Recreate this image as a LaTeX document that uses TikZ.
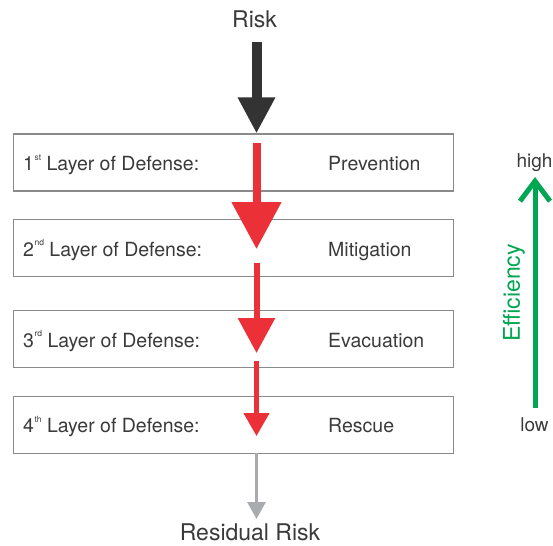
\documentclass[tikz,border=0pt]{standalone}
\usepackage{fontspec}
\setmainfont{TeX Gyre Heros}
\usetikzlibrary{arrows.meta}
\definecolor{txt}{HTML}{3A3A3A}
\definecolor{boxgray}{HTML}{8A8A8A}
\definecolor{riskred}{HTML}{EC3038}
\definecolor{darkarrow}{HTML}{333333}
\definecolor{resgray}{HTML}{A9ABAE}
\definecolor{effgreen}{HTML}{00A651}
\newcommand\ordsup[1]{\kern0.5pt\raisebox{10.5pt}{\fontsize{8.5}{9}\selectfont #1}}
\begin{document}
\begin{tikzpicture}[x=1pt,y=-1pt,
  layerbox/.style={draw=boxgray, line width=1.1pt, minimum width=440pt, minimum height=57pt, anchor=north west, inner sep=0pt},
  lbl/.style={text=txt, font=\fontsize{19.5}{21}\selectfont, anchor=base west, inner sep=0pt},
  title/.style={text=txt, font=\fontsize{23}{25}\selectfont, anchor=base, inner sep=0pt},
  scalelbl/.style={text=txt, font=\fontsize{19}{21}\selectfont, anchor=base, inner sep=0pt},
  flow/.style={line cap=butt}
]
\useasboundingbox (0,0) rectangle (553,545);

% boxes
\node[layerbox] (b1) at (13,133.5) {};
\node[layerbox] (b2) at (13,218.5) {};
\node[layerbox] (b3) at (13,310) {};
\node[layerbox] (b4) at (13,396) {};

% labels
\node[lbl] (l1) at (23,171) {1\ordsup{st} Layer of Defense:};
\node[lbl] (l2) at (23,256) {2\ordsup{nd} Layer of Defense:};
\node[lbl] (l3) at (23,347) {3\ordsup{rd} Layer of Defense:};
\node[lbl] (l4) at (23,432.5) {4\ordsup{th} Layer of Defense:};
\node[lbl] (m1) at (328,171) {Prevention};
\node[lbl] (m2) at (328,256) {Mitigation};
\node[lbl] (m3) at (328,347) {Evacuation};
\node[lbl] (m4) at (328,432.5) {Rescue};

\node[title] (risk) at (254.5,28) {Risk};
\node[title] (res) at (250,540) {Residual Risk};

% arrow coordinates
\coordinate (k0) at (256.5,42);
\coordinate (k1) at (256.5,133.5);
\coordinate (r1s) at (256.5,143);
\coordinate (r1e) at (256.5,249);
\coordinate (r2s) at (256.5,263);
\coordinate (r2e) at (256.5,353);
\coordinate (r3s) at (256.5,361);
\coordinate (r3e) at (256.5,436);
\coordinate (g0) at (256.5,453);
\coordinate (g1) at (256.5,519);

\draw[flow, darkarrow, line width=10pt, -{Triangle[width=35pt,length=36pt]}] (k0) -- (k1);
\draw[flow, riskred, line width=8pt, -{Triangle[width=48pt,length=47pt]}] (r1s) -- (r1e);
\draw[flow, riskred, line width=6pt, -{Triangle[width=36pt,length=35pt]}] (r2s) -- (r2e);
\draw[flow, riskred, line width=4.5pt, -{Triangle[width=25pt,length=23pt]}] (r3s) -- (r3e);
\draw[flow, resgray, line width=3pt, -{Triangle[width=18pt,length=17pt]}] (g0) -- (g1);

% efficiency scale
\node[scalelbl] (high) at (534.5,168) {high};
\node[scalelbl] (low) at (534.5,431) {low};
\node[text=effgreen, font=\fontsize{23}{25}\selectfont, inner sep=0pt, rotate=90] (eff) at (514,293) {Efficiency};
\coordinate (e0) at (535,408);
\coordinate (e1) at (535,177);
\draw[flow, effgreen, line width=5pt, -{Straight Barb[width=30pt,length=20pt,line width=5pt]}] (e0) -- (e1);
\end{tikzpicture}
\end{document}
